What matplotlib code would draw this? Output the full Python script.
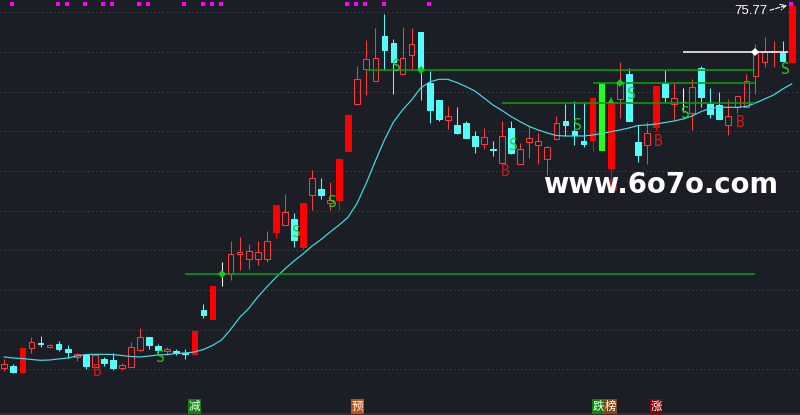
import numpy as np
import matplotlib
matplotlib.use('Agg')
import matplotlib.pyplot as plt
from matplotlib.patches import Rectangle

# ---------------- data ----------------
opens = [39.60, 39.77, 39.20, 41.60, 42.07, 41.64, 41.97, 41.47, 40.70, 40.90,
         39.70, 40.44, 40.37, 39.57, 39.70, 41.40, 42.67, 41.77, 41.30, 41.27,
         41.04, 41.00, 45.37, 44.50, 49.00, 48.97, 50.97, 50.50, 50.52, 50.52,
         53.20, 53.90, 54.47, 51.70, 56.90, 57.47, 56.10, 56.37, 61.30, 66.00,
         69.50, 68.24, 72.77, 72.07, 69.00, 70.90, 73.17, 68.07, 66.37, 64.40,
         63.87, 64.07, 62.77, 62.00, 61.47, 60.10, 63.57, 60.00, 62.20, 61.90,
         60.50, 62.50, 64.27, 63.27, 62.27, 62.40, 68.07, 59.60, 66.50, 68.97,
         62.17, 61.84, 63.70, 68.07, 65.94, 66.14, 65.10, 69.57, 65.97, 65.87,
         63.90, 65.70, 65.70, 68.80, 70.20, 71.14, 71.10, 70.20]
closes = [39.97, 39.17, 41.60, 42.17, 41.94, 41.87, 41.47, 41.17, 40.94, 39.74,
          40.90, 40.04, 39.57, 39.84, 41.64, 42.67, 41.87, 41.37, 41.44, 41.04,
          40.94, 43.27, 44.87, 47.77, 49.00, 50.97, 51.17, 51.27, 51.14, 52.27,
          55.87, 55.17, 52.37, 56.07, 58.57, 56.87, 56.37, 60.47, 64.87, 68.47,
          70.47, 70.57, 71.37, 70.17, 70.57, 71.97, 69.37, 65.40, 64.50, 64.77,
          63.10, 62.60, 61.80, 62.67, 61.40, 62.77, 61.10, 61.47, 62.57, 62.27,
          61.67, 64.07, 63.87, 62.87, 62.00, 66.57, 61.40, 66.07, 68.10, 64.30,
          60.90, 63.07, 67.77, 66.70, 66.54, 66.14, 67.70, 66.70, 65.00, 64.50,
          64.77, 66.77, 68.27, 71.10, 71.20, 71.27, 70.27, 75.77]
highs = [40.44, 40.00, 41.60, 42.70, 42.77, 41.97, 42.27, 41.87, 41.10, 40.90,
         40.90, 40.64, 41.04, 40.04, 42.17, 43.57, 42.67, 41.94, 41.70, 41.47,
         41.44, 43.27, 45.97, 47.77, 50.17, 52.27, 52.67, 51.97, 52.27, 53.27,
         55.87, 56.97, 55.07, 56.07, 59.37, 58.57, 58.17, 60.47, 64.87, 69.80,
         72.37, 73.57, 74.97, 72.47, 73.67, 73.57, 73.17, 69.27, 66.37, 65.77,
         65.67, 64.27, 63.27, 63.57, 62.27, 64.27, 64.27, 62.07, 63.87, 63.07,
         61.77, 64.77, 66.00, 66.27, 66.20, 66.57, 68.07, 66.07, 70.17, 69.57,
         63.87, 64.17, 67.77, 69.37, 68.07, 67.60, 68.47, 69.77, 67.57, 67.17,
         66.47, 66.77, 68.97, 71.97, 72.67, 72.27, 72.27, 75.77]
lows = [39.30, 39.04, 39.20, 41.04, 41.70, 41.57, 41.30, 40.60, 40.24, 39.50,
        39.70, 39.77, 39.34, 39.37, 39.70, 41.30, 41.50, 41.10, 40.90, 40.87,
        40.44, 41.00, 44.60, 44.50, 47.80, 48.37, 49.37, 49.50, 49.87, 50.17,
        52.60, 53.90, 51.70, 51.40, 55.37, 56.47, 55.37, 55.37, 61.30, 66.00,
        66.90, 68.24, 69.37, 66.97, 69.00, 69.50, 66.37, 64.10, 64.30, 63.50,
        63.00, 62.60, 61.10, 61.50, 60.80, 60.10, 60.97, 60.00, 60.60, 60.00,
        58.90, 62.50, 62.77, 61.87, 61.70, 61.20, 61.40, 58.60, 64.60, 64.30,
        60.20, 60.00, 63.27, 66.20, 64.37, 65.20, 63.37, 65.70, 64.57, 64.50,
        62.87, 65.04, 65.70, 67.00, 69.70, 69.70, 70.27, 70.20]
ma_line = [40.67, 40.57, 40.52, 40.42, 40.34, 40.37, 40.47, 40.57, 40.77, 40.92,
           40.94, 40.94, 40.92, 40.82, 40.72, 40.67, 40.77, 40.87, 40.92, 41.02,
           41.07, 41.17, 41.42, 41.82, 42.37, 43.42, 44.62, 45.52, 46.67, 47.67,
           48.62, 49.47, 50.27, 50.97, 51.77, 52.42, 53.17, 53.87, 54.67, 56.07,
           58.07, 60.27, 62.37, 64.17, 65.37, 66.37, 67.57, 68.17, 68.44, 68.44,
           68.12, 67.72, 67.27, 66.57, 65.87, 65.32, 64.72, 64.20, 63.72, 63.37,
           63.07, 62.82, 62.77, 62.77, 62.77, 62.87, 63.02, 63.20, 63.37, 63.57,
           63.82, 63.87, 63.97, 64.12, 64.27, 64.47, 64.77, 65.22, 65.54, 65.64,
           65.64, 65.64, 65.72, 66.07, 66.47, 66.87, 67.47, 67.97]
solid_red = [2, 21, 23, 30, 33, 37, 38, 65, 67, 72, 87]
solid_green = [66]

signal_idx = [10, 17, 32, 36, 43, 55, 56, 63, 67, 69, 72, 75, 81, 86]
signal_kind = ['B', 'S', 'S', 'S', 'S', 'B', 'S', 'S', 'B', 'S', 'B', 'S', 'B', 'S']
signal_price = [39.27, 40.64, 53.10, 56.14, 69.70, 59.20, 61.80, 63.82, 57.77,
                66.92, 62.27, 65.04, 64.10, 69.42]

level_price = [48.97, 69.34, 68.12, 66.04]
level_start = [20, 40, 65, 55]
level_end = [83, 83, 83, 83]
level_marker_idx = [24, 46, 68]
level_marker_price = [48.97, 69.34, 68.12]
white_level_price = 71.14
white_level_start, white_level_end = 75, 86.6
white_marker_idx = 83
triangle_idx, triangle_price = 67, 66.35

top_mark_idx = [1, 6, 7, 9, 11, 12, 15, 16, 20, 22, 23, 24, 38, 39, 40, 42, 47, 87]
top_mark_price = 75.94

tag_idx = [21, 39, 65.65, 67, 72]
tag_text = ['减', '预', '跌', '榜', '涨']
tag_color = ['#0a870a', '#c2500f', '#0a870a', '#8a4810', '#8c0000']

# ---------------- styling ----------------
BG = '#1b1e25'
RED = '#ff0000'
RED_HOLLOW = '#ff3a3a'
CYAN = '#55fcfc'
GREEN_BAR = '#22ff22'
WHITE = '#ffffff'

fig = plt.figure(figsize=(8, 4.15), dpi=100, facecolor=BG)
ax = fig.add_axes([0, 0, 1, 1])
ax.set_facecolor(BG)
ax.set_xlim(-0.475, 87.92)
ax.set_ylim(34.87, 76.37)
ax.axis('off')

# dotted grid
for k in range(10):
    ax.axhline(75.14 - 3.967 * k, color='#4a4f5a', lw=0.75,
               linestyle=(0, (1, 3)), zorder=0)

# bottom strip
ax.add_patch(Rectangle((0, 0), 1, 2.5 / 415, transform=ax.transAxes,
                       facecolor='#2c3039', edgecolor='none', zorder=0))

bw = 0.63
lw = 0.75
for i in range(len(opens)):
    o, c, h, l = opens[i], closes[i], highs[i], lows[i]
    filled = True
    if i in solid_green:
        col = GREEN_BAR
    elif c > o:
        if i in solid_red:
            col = RED
        else:
            col = RED_HOLLOW
            filled = False
    elif c < o:
        col = CYAN
    else:
        col = WHITE
    top, bot = max(o, c), min(o, c)
    if filled:
        ax.vlines(i, l, h, color=col, lw=lw, zorder=2)
    else:
        if h > top:
            ax.vlines(i, top, h, color=col, lw=lw, zorder=2)
        if l < bot:
            ax.vlines(i, l, bot, color=col, lw=lw, zorder=2)
    ax.add_patch(Rectangle((i - bw / 2, bot), bw, top - bot,
                           facecolor=col if filled else 'none',
                           edgecolor=col, lw=lw, zorder=3))

# moving-average line
ax.plot(range(len(ma_line)), ma_line, color='#3fe0ec', lw=0.85, zorder=4)

# level lines
for p, s, e in zip(level_price, level_start, level_end):
    ax.hlines(p, s, e, color='#0a9a0a', lw=1.2, zorder=4)
ax.plot(level_marker_idx, level_marker_price, 'D', color='#18c818',
        markersize=3.8, markeredgewidth=0, zorder=6)
ax.hlines(white_level_price, white_level_start, white_level_end,
          color=WHITE, lw=1.1, zorder=4)
ax.plot([white_marker_idx], [white_level_price], 'D', color=WHITE,
        markersize=3.8, markeredgewidth=0, zorder=6)
ax.plot([triangle_idx], [triangle_price], '^', color='#18c818',
        markersize=4.5, markeredgewidth=0, zorder=6)

# signal letters
for i, k, p in zip(signal_idx, signal_kind, signal_price):
    ax.text(i + 0.3, p, k, color='#22d022' if k == 'S' else '#d81818',
            fontsize=10.5, family='DejaVu Sans Mono', ha='center',
            va='center', zorder=7)

# top markers
ax.plot(np.array(top_mark_idx) - 0.1, [top_mark_price] * len(top_mark_idx),
        's', color='#ff00ff', markersize=2.3, markeredgewidth=0, zorder=7)

# max label
imax = int(np.argmax(highs))
ax.text(84.3, 75.27, f'{max(highs):.2f}', color=WHITE, fontsize=9.5,
        family='Liberation Sans', ha='right', va='center', zorder=8)
ax.annotate('', xy=(imax - 0.5, 75.85), xytext=(84.6, 75.35),
            arrowprops=dict(arrowstyle='->', color=WHITE, lw=0.8,
                            linestyle='--', shrinkA=0, shrinkB=0), zorder=8)

# bottom tags
for i, t, c in zip(tag_idx, tag_text, tag_color):
    ax.text(i, 35.72, t, color=WHITE, fontsize=8.3,
            family=['Noto Sans CJK SC', 'DejaVu Sans'], ha='center', va='center',
            bbox=dict(boxstyle='square,pad=0.05', facecolor=c, edgecolor='none'),
            zorder=8)

# watermark
ax.text(59.5, 57.04, 'www.6o7o.com', color=WHITE, fontsize=19.8,
        fontweight='bold', family='DejaVu Sans', ha='left', va='baseline',
        zorder=9)

fig.savefig('out.png', dpi=100, facecolor=BG)
